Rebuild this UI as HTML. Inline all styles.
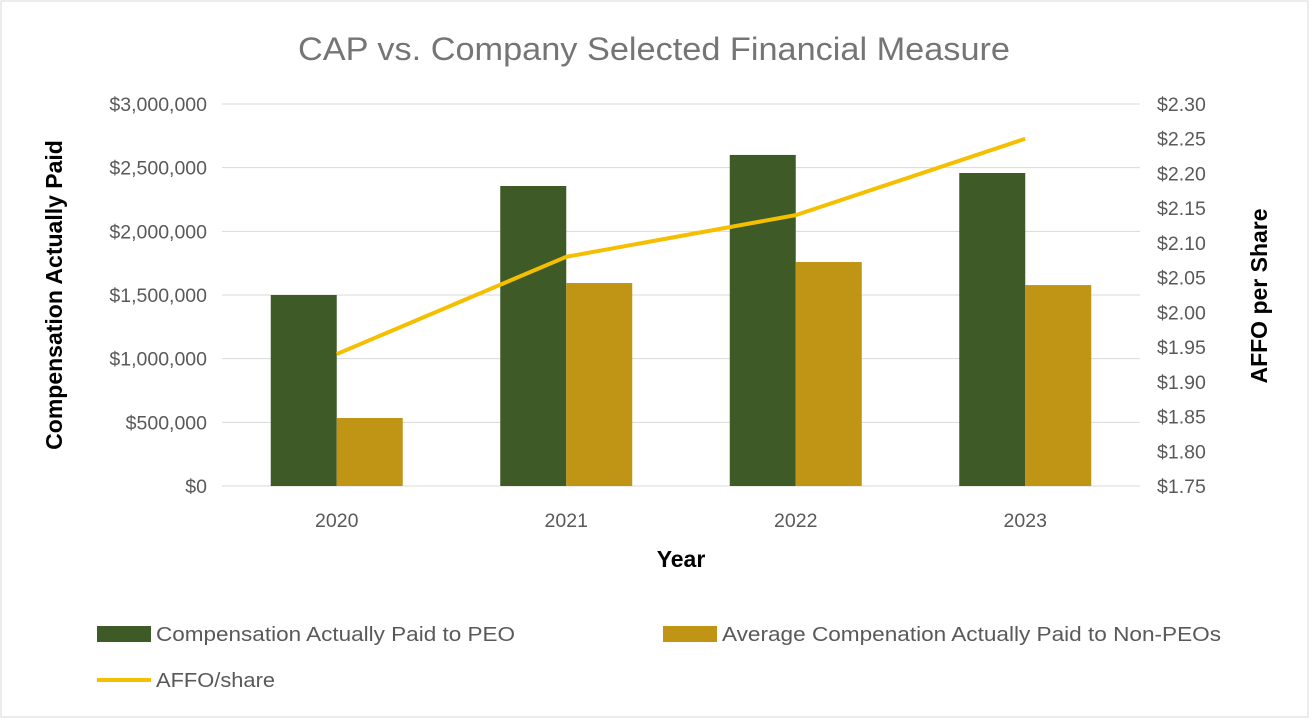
<!DOCTYPE html>
<html><head><meta charset="utf-8"><style>
body{margin:0;background:#fff;}
svg{display:block;font-family:"Liberation Sans",sans-serif;}
</style></head><body>
<svg id="chart" width="1314" height="724">
<rect x="1" y="1" width="1307" height="716" fill="#fff" stroke="#d9d9d9"/>
<text x="298" y="60" textLength="712" lengthAdjust="spacingAndGlyphs" font-size="32" fill="#757575">CAP vs. Company Selected Financial Measure</text>
<g id="grid"></g><g id="bars"></g><g id="line"></g><g id="axes"></g>
<text transform="translate(62,295) rotate(-90)" text-anchor="middle" font-size="23" font-weight="bold" fill="#000">Compensation Actually Paid</text>
<text transform="translate(1267,296) rotate(-90)" text-anchor="middle" font-size="23" font-weight="bold" fill="#000">AFFO per Share</text>
<text x="681" y="567" text-anchor="middle" font-size="23" font-weight="bold" fill="#000">Year</text>
<g>
<rect x="97" y="626" width="54" height="16" fill="#3d5a27"/>
<text x="156" y="641" font-size="20" textLength="359" lengthAdjust="spacingAndGlyphs" fill="#595959">Compensation Actually Paid to PEO</text>
<rect x="663" y="626" width="54" height="16" fill="#c09415"/>
<text x="722" y="641" font-size="20" textLength="499" lengthAdjust="spacingAndGlyphs" fill="#595959">Average Compenation Actually Paid to Non-PEOs</text>
<line x1="97" y1="680" x2="151" y2="680" stroke="#f5bf00" stroke-width="4"/>
<text x="156" y="687" font-size="20" textLength="119" lengthAdjust="spacingAndGlyphs" fill="#595959">AFFO/share</text>
</g>
</svg>
<script>
const categories=["2020","2021","2022","2023"];
const peo=[1500000,2356000,2600000,2458000];
const nonPeo=[534000,1594000,1759000,1578000];
const affo=[1.94,2.08,2.14,2.25];
const leftTicks=[0,500000,1000000,1500000,2000000,2500000,3000000];
const rightTicks=[1.75,1.80,1.85,1.90,1.95,2.00,2.05,2.10,2.15,2.20,2.25,2.30];
const NS="http://www.w3.org/2000/svg";
const X0=222,X1=1140,Y0=486,Y1=104;
const yL=v=>Y0-(v/3000000)*(Y0-Y1);
const yR=v=>Y0-((v-1.75)/0.55)*(Y0-Y1);
const cw=(X1-X0)/categories.length;
const xc=i=>X0+cw*(i+0.5);
function mk(t,a,p){const e=document.createElementNS(NS,t);for(const k in a)e.setAttribute(k,a[k]);p.appendChild(e);return e;}
const grid=document.getElementById('grid'),bars=document.getElementById('bars'),line=document.getElementById('line'),axes=document.getElementById('axes');
leftTicks.forEach(v=>{
 const g=mk('line',{x1:X0,x2:X1,y1:yL(v),y2:yL(v),stroke:'#d9d9d9','stroke-width':1},grid);
 
 
 const t=mk('text',{x:207,y:yL(v)+7,'text-anchor':'end','font-size':19.5,fill:'#595959'},axes);
 t.textContent='$'+v.toLocaleString('en-US');
 
 
});
rightTicks.forEach(v=>{
 const t=mk('text',{x:1157,y:yR(v)+7,'font-size':19.5,fill:'#595959'},axes);
 t.textContent='$'+v.toFixed(2);
 
 
});
const bw=66;
categories.forEach((c,i)=>{
 const b1=mk('rect',{x:xc(i)-bw,y:yL(peo[i]),width:bw,height:Y0-yL(peo[i]),fill:'#3d5a27'},bars);
 
 
 const b2=mk('rect',{x:xc(i),y:yL(nonPeo[i]),width:bw,height:Y0-yL(nonPeo[i]),fill:'#c09415'},bars);
 
 
 const t=mk('text',{x:xc(i),y:527,'text-anchor':'middle','font-size':19.5,fill:'#595959'},axes);
 t.textContent=c;
 
 
});
const pl=mk('polyline',{points:affo.map((v,i)=>xc(i)+','+yR(v)).join(' '),fill:'none',stroke:'#f5bf00','stroke-width':4,'stroke-linejoin':'round'},line);


</script>
</body></html>
